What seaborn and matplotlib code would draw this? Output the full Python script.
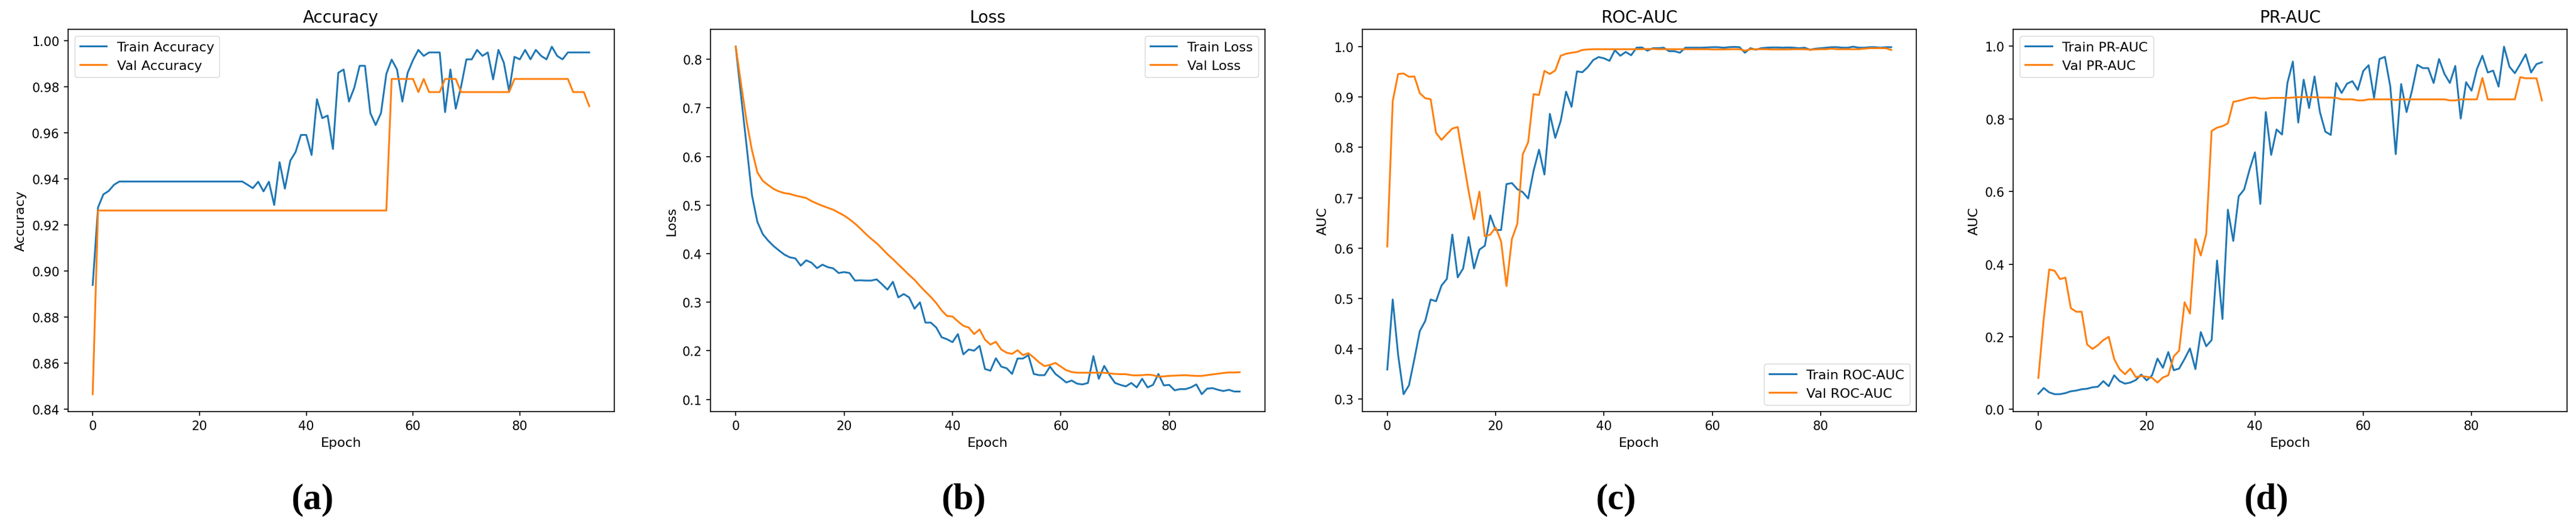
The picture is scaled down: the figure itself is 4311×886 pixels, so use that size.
import matplotlib
matplotlib.use("Agg")
import matplotlib.pyplot as plt
import seaborn as sns

# epochs 0..93
epochs = list(range(94))

train_acc = [0.894, 0.9277, 0.9333, 0.9348, 0.9375, 0.9389, 0.9389, 0.9389, 0.9389, 0.9389,
             0.9389, 0.9389, 0.9389, 0.9389, 0.9389, 0.9389, 0.9389, 0.9389, 0.9389, 0.9389,
             0.9389, 0.9389, 0.9389, 0.9389, 0.9389, 0.9389, 0.9389, 0.9389, 0.9389, 0.9375,
             0.936, 0.9388, 0.9346, 0.9388, 0.9287, 0.9473, 0.9358, 0.9479, 0.9517, 0.9591,
             0.9591, 0.9504, 0.9746, 0.9664, 0.9675, 0.953, 0.9861, 0.9875, 0.9736, 0.9796,
             0.9891, 0.9891, 0.9686, 0.9634, 0.9686, 0.9856, 0.9918, 0.9875, 0.9736, 0.9861,
             0.9916, 0.996, 0.9934, 0.9949, 0.9949, 0.9949, 0.969, 0.9875, 0.9705, 0.9801,
             0.9919, 0.9919, 0.996, 0.9934, 0.9949, 0.9832, 0.996, 0.9905, 0.9781, 0.993,
             0.9919, 0.996, 0.9919, 0.996, 0.9934, 0.9919, 0.9974, 0.9934, 0.9919, 0.9949,
             0.9949, 0.9949, 0.9949, 0.9949]
val_acc = [0.8466, 0.9263, 0.9263, 0.9263, 0.9263, 0.9263, 0.9263, 0.9263, 0.9263, 0.9263,
           0.9263, 0.9263, 0.9263, 0.9263, 0.9263, 0.9263, 0.9263, 0.9263, 0.9263, 0.9263,
           0.9263, 0.9263, 0.9263, 0.9263, 0.9263, 0.9263, 0.9263, 0.9263, 0.9263, 0.9263,
           0.9263, 0.9263, 0.9263, 0.9263, 0.9263, 0.9263, 0.9263, 0.9263, 0.9263, 0.9263,
           0.9263, 0.9263, 0.9263, 0.9263, 0.9263, 0.9263, 0.9263, 0.9263, 0.9263, 0.9263,
           0.9263, 0.9263, 0.9263, 0.9263, 0.9263, 0.9263, 0.9834, 0.9834, 0.9834, 0.9834,
           0.9834, 0.9777, 0.9834, 0.9777, 0.9777, 0.9777, 0.9834, 0.9834, 0.9834, 0.9777,
           0.9777, 0.9777, 0.9777, 0.9777, 0.9777, 0.9777, 0.9777, 0.9777, 0.9777, 0.9834,
           0.9834, 0.9834, 0.9834, 0.9834, 0.9834, 0.9834, 0.9834, 0.9834, 0.9834, 0.9834,
           0.9777, 0.9777, 0.9777, 0.9716]

train_loss = [0.826, 0.723, 0.622, 0.52, 0.465, 0.44, 0.4265, 0.4154, 0.4063, 0.3978,
              0.3923, 0.3902, 0.3752, 0.3862, 0.3812, 0.3701, 0.3772, 0.3721, 0.3696, 0.36,
              0.362, 0.36, 0.3445, 0.345, 0.3445, 0.3445, 0.347, 0.3369, 0.3259, 0.342,
              0.3098, 0.3168, 0.3098, 0.2866, 0.2997, 0.258, 0.258, 0.2479, 0.2278, 0.2237,
              0.2177, 0.2343, 0.1926, 0.2026, 0.2001, 0.2102, 0.1624, 0.1589, 0.1845, 0.1674,
              0.1639, 0.1523, 0.184, 0.184, 0.191, 0.1523, 0.1498, 0.1498, 0.1674, 0.1523,
              0.1438, 0.1347, 0.1387, 0.1322, 0.1307, 0.1337, 0.189, 0.1423, 0.1689, 0.1498,
              0.1337, 0.1297, 0.1267, 0.1337, 0.1246, 0.1423, 0.1246, 0.1297, 0.1523, 0.1287,
              0.1297, 0.1186, 0.1211, 0.1211, 0.1246, 0.1307, 0.1106, 0.1221, 0.1231, 0.1196,
              0.1171, 0.1196, 0.1161, 0.1161]
val_loss = [0.826, 0.748, 0.673, 0.6126, 0.567, 0.5497, 0.541, 0.533, 0.528, 0.5245,
            0.523, 0.5195, 0.517, 0.5145, 0.508, 0.503, 0.4984, 0.4944, 0.4903, 0.4843,
            0.4783, 0.4707, 0.4617, 0.4516, 0.4405, 0.4305, 0.4214, 0.4104, 0.3988, 0.3887,
            0.3777, 0.3671, 0.356, 0.346, 0.3334, 0.3218, 0.3108, 0.2982, 0.2831, 0.2715,
            0.2705, 0.2605, 0.2514, 0.2479, 0.2343, 0.2439, 0.2227, 0.2127, 0.2185, 0.2026,
            0.196, 0.1936, 0.2011, 0.191, 0.1951, 0.186, 0.176, 0.1684, 0.1709, 0.175,
            0.1674, 0.1599, 0.1563, 0.1548, 0.1548, 0.1548, 0.1548, 0.1548, 0.1548, 0.1533,
            0.1523, 0.1518, 0.1518, 0.1498, 0.1493, 0.1498, 0.1508, 0.1498, 0.1468, 0.1473,
            0.1483, 0.1488, 0.1493, 0.1498, 0.1488, 0.1483, 0.1483, 0.1498, 0.1513, 0.1528,
            0.1543, 0.1553, 0.1553, 0.1558]

train_roc = [0.359, 0.498, 0.388, 0.310, 0.3275, 0.380, 0.4353, 0.4554, 0.498, 0.4945,
             0.5256, 0.539, 0.627, 0.542, 0.5597, 0.622, 0.5597, 0.597, 0.6048, 0.665,
             0.636, 0.636, 0.7272, 0.7292, 0.7171, 0.7111, 0.6986, 0.7538, 0.7954, 0.7462,
             0.8666, 0.819, 0.8526, 0.9107, 0.8806, 0.9509, 0.9493, 0.9594, 0.9734, 0.9794,
             0.9769, 0.9719, 0.993, 0.982, 0.9895, 0.983, 0.998, 0.9985, 0.992, 0.997,
             0.997, 0.998, 0.991, 0.991, 0.988, 0.998, 0.998, 0.998, 0.998, 0.9985,
             0.999, 0.999, 0.998, 0.999, 0.9995, 0.999, 0.988, 0.997, 0.994, 0.997,
             0.998, 0.9985, 0.9985, 0.998, 0.9985, 0.998, 0.997, 0.998, 0.994, 0.996,
             0.997, 0.998, 0.999, 0.999, 0.998, 0.998, 1.0, 0.998, 0.998, 0.999,
             0.999, 0.998, 0.999, 0.999]
val_roc = [0.6033, 0.8917, 0.9458, 0.9468, 0.9403, 0.9408, 0.9077, 0.8977, 0.8957, 0.829,
           0.815, 0.8265, 0.8375, 0.8405, 0.7763, 0.7137, 0.657, 0.7121, 0.6234, 0.6269,
           0.641, 0.6133, 0.5246, 0.6184, 0.6485, 0.7864, 0.8104, 0.9057, 0.9042, 0.9519,
           0.9458, 0.9529, 0.982, 0.986, 0.988, 0.9895, 0.9935, 0.9945, 0.995, 0.995,
           0.995, 0.995, 0.995, 0.995, 0.995, 0.995, 0.995, 0.995, 0.9955, 0.9955,
           0.995, 0.995, 0.995, 0.995, 0.995, 0.995, 0.995, 0.995, 0.995, 0.995,
           0.9945, 0.9945, 0.9945, 0.995, 0.995, 0.995, 0.992, 0.995, 0.995, 0.995,
           0.995, 0.9945, 0.9945, 0.9945, 0.9945, 0.995, 0.995, 0.995, 0.994, 0.9945,
           0.995, 0.995, 0.996, 0.995, 0.995, 0.995, 0.995, 0.995, 0.996, 0.997,
           0.997, 0.997, 0.997, 0.9935]

train_pr = [0.043, 0.059, 0.047, 0.042, 0.042, 0.045, 0.050, 0.052, 0.0556, 0.057,
            0.061, 0.0625, 0.078, 0.064, 0.094, 0.078, 0.071, 0.074, 0.081, 0.096,
            0.080, 0.094, 0.140, 0.1146, 0.158, 0.108, 0.1125, 0.139, 0.168, 0.111,
            0.213, 0.174, 0.191, 0.410, 0.249, 0.55, 0.464, 0.587, 0.6056, 0.660,
            0.708, 0.566, 0.819, 0.701, 0.771, 0.757, 0.899, 0.958, 0.790, 0.908,
            0.830, 0.917, 0.819, 0.765, 0.756, 0.899, 0.8715, 0.897, 0.904, 0.880,
            0.932, 0.948, 0.858, 0.965, 0.971, 0.889, 0.703, 0.896, 0.819, 0.878,
            0.949, 0.940, 0.940, 0.899, 0.965, 0.924, 0.899, 0.946, 0.801, 0.901,
            0.878, 0.9375, 0.974, 0.928, 0.933, 0.889, 0.999, 0.944, 0.926, 0.951,
            0.978, 0.928, 0.951, 0.956]
val_pr = [0.0868, 0.25, 0.3854, 0.382, 0.359, 0.363, 0.279, 0.269, 0.269, 0.179,
          0.1667, 0.177, 0.191, 0.200, 0.139, 0.111, 0.097, 0.1125, 0.089, 0.092,
          0.090, 0.087, 0.074, 0.088, 0.094, 0.146, 0.162, 0.295, 0.264, 0.469,
          0.424, 0.483, 0.767, 0.776, 0.780, 0.788, 0.847, 0.85, 0.854, 0.858,
          0.859, 0.856, 0.856, 0.858, 0.858, 0.858, 0.858, 0.859, 0.860, 0.860,
          0.860, 0.860, 0.859, 0.859, 0.859, 0.858, 0.854, 0.854, 0.854, 0.851,
          0.851, 0.854, 0.854, 0.854, 0.854, 0.854, 0.852, 0.854, 0.854, 0.854,
          0.854, 0.854, 0.854, 0.854, 0.854, 0.854, 0.851, 0.851, 0.854, 0.854,
          0.854, 0.854, 0.913, 0.854, 0.854, 0.854, 0.854, 0.854, 0.854, 0.915,
          0.912, 0.912, 0.912, 0.851]

titles = ["Accuracy", "Loss", "ROC-AUC", "PR-AUC"]
ylabels = ["Accuracy", "Loss", "AUC", "AUC"]
train_labels = ["Train Accuracy", "Train Loss", "Train ROC-AUC", "Train PR-AUC"]
val_labels = ["Val Accuracy", "Val Loss", "Val ROC-AUC", "Val PR-AUC"]
tags = ["(a)", "(b)", "(c)", "(d)"]

plt.rcParams.update({
    "font.size": 15,
    "xtick.labelsize": 15,
    "ytick.labelsize": 15,
    "axes.labelsize": 16,
    "legend.fontsize": 16,
    "axes.linewidth": 1.2,
    "xtick.major.width": 1.2,
    "ytick.major.width": 1.2,
    "xtick.major.size": 5,
    "ytick.major.size": 5,
    "xtick.major.pad": 5,
    "ytick.major.pad": 5,
})

W, H = 4311, 887
fig = plt.figure(figsize=(W / 100, H / 100), dpi=100)

# pixel boxes of the four axes in the original composite
boxes = [(113.6, 1027.6), (1189.1, 2116.8), (2279.5, 3207.2), (3369.1, 4296.1)]
top, bottom = 50, 689
tag_x = [523, 1613, 2704, 3793]
legend_loc = ["upper left", "upper right", "lower right", "upper left"]

series = [(train_acc, val_acc), (train_loss, val_loss), (train_roc, val_roc), (train_pr, val_pr)]

for i, ((x0, x1), (tr, va)) in enumerate(zip(boxes, series)):
    ax = fig.add_axes([x0 / W, 1 - bottom / H, (x1 - x0) / W, (bottom - top) / H])
    sns.lineplot(x=epochs, y=tr, ax=ax, color="#1f77b4", linewidth=2.2, label=train_labels[i])
    sns.lineplot(x=epochs, y=va, ax=ax, color="#ff7f0e", linewidth=2.2, label=val_labels[i])
    ax.set_title(titles[i], fontsize=20, pad=9)
    ax.set_xlabel("Epoch", labelpad=6)
    ax.set_ylabel(ylabels[i], labelpad=6)
    ax.legend(loc=legend_loc[i])
    fig.text(tag_x[i] / W, 1 - 836 / H, tags[i], ha="center", va="center",
             fontsize=44, fontweight="bold", family="Liberation Serif")

fig.savefig("out.png", dpi=100)
